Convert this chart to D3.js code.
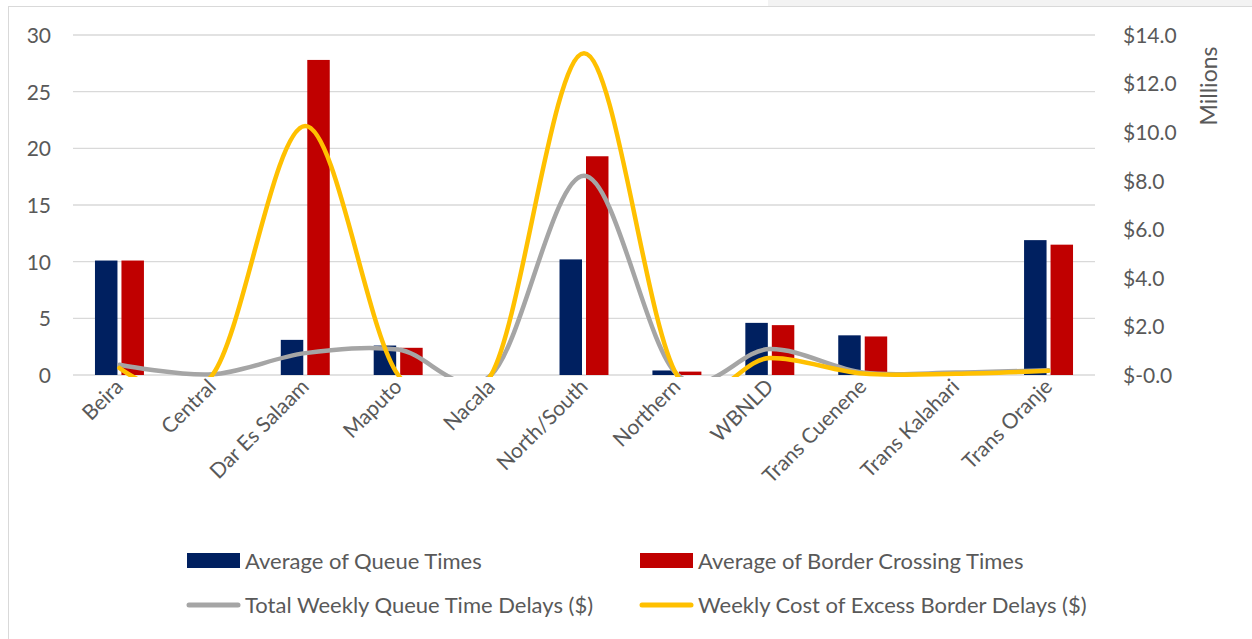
<!DOCTYPE html>
<html>
<head>
<meta charset="utf-8">
<script src="https://cdn.jsdelivr.net/npm/d3@7/dist/d3.min.js"></script>
<style>
  html, body { margin: 0; padding: 0; background: #ffffff; }
  svg { display: block; }
  text { font-family: Lato, "Open Sans", sans-serif; fill: #595959; }
</style>
</head>
<body>
<svg id="chart" width="1252" height="639"></svg>
<script>
// ---- DATA ----
const categories = ["Beira", "Central", "Dar Es Salaam", "Maputo", "Nacala", "North/South",
  "Northern", "WBNLD", "Trans Cuenene", "Trans Kalahari", "Trans Oranje"];
const queueTimes     = [10.1, 0, 3.1, 2.6, 0, 10.2, 0.4, 4.6, 3.5, 0, 11.9];
const crossingTimes  = [10.1, 0, 27.8, 2.4, 0, 19.3, 0.3, 4.4, 3.4, 0, 11.5];
// millions of dollars
const queueDelays    = [0.42, 0.03, 0.9, 1.05, 0, 8.2, 0.03, 1.07, 0.1, 0.1, 0.2];
const borderDelays   = [0.29, 0, 10.25, 0, 0, 13.25, 0, 0.7, 0.06, 0.05, 0.17];
const leftTicks  = [0, 5, 10, 15, 20, 25, 30];
const rightTicks = [0, 2, 4, 6, 8, 10, 12, 14];
const rightTickLabels = ["$-0.0", "$2.0", "$4.0", "$6.0", "$8.0", "$10.0", "$12.0", "$14.0"];
const seriesNames = ["Average of Queue Times", "Average of Border Crossing Times",
  "Total Weekly Queue Time Delays ($)", "Weekly Cost of Excess Border Delays ($)"];

// ---- LAYOUT ----
const colors = { queue: "#002060", cross: "#C00000", qd: "#A5A5A5", bd: "#FFC000" };
const plot = { left: 73, right: 1095, top: 35, bottom: 375 };
const svg = d3.select("#chart");

// frame
svg.append("rect").attr("x", 768).attr("y", 0).attr("width", 484).attr("height", 6).attr("fill", "#f3f3f3");
svg.append("rect").attr("x", 8.5).attr("y", 6.5).attr("width", 1300).attr("height", 700)
  .attr("fill", "#ffffff").attr("stroke", "#d9d9d9").attr("stroke-width", 1);

const x = d3.scaleBand().domain(categories).range([plot.left, plot.right]).padding(0);
const bw = x.bandwidth();
const xs = d3.scaleBand().domain(["q", "c"]).range([bw * 0.2365, bw * 0.7635]).paddingInner(0.151);
const yL = d3.scaleLinear().domain([0, 30]).range([plot.bottom, plot.top]);
const yR = d3.scaleLinear().domain([0, 14]).range([plot.bottom, plot.top]);

// gridlines
svg.append("g").selectAll("line").data(leftTicks).join("line")
  .attr("x1", plot.left).attr("x2", plot.right)
  .attr("y1", d => yL(d)).attr("y2", d => yL(d))
  .attr("stroke", "#d9d9d9").attr("stroke-width", 1.3);

// left axis labels
const leftAxis = d3.axisLeft(yL).tickValues(leftTicks).tickSize(0).tickPadding(0);
const gL = svg.append("g").attr("transform", `translate(51,0)`).call(leftAxis);
gL.select(".domain").remove();
gL.selectAll("text").attr("font-size", 21).attr("dy", "0.35em").style("font-family", "Lato, sans-serif").attr("fill", "#595959");

// right axis labels
const rightAxis = d3.axisRight(yR).tickValues(rightTicks).tickSize(0).tickPadding(0)
  .tickFormat((d, i) => rightTickLabels[i]);
const gR = svg.append("g").attr("transform", `translate(1123,0)`).call(rightAxis);
gR.select(".domain").remove();
gR.selectAll("text").attr("font-size", 21).attr("dy", "0.35em").style("font-family", "Lato, sans-serif").attr("fill", "#595959");

svg.append("text").attr("transform", "translate(1209,86) rotate(-90)")
  .attr("dy", "0.35em")
  .attr("text-anchor", "middle").attr("font-size", 23).text("Millions");

// bars
const barData = categories.map((c, i) => ({ c, q: queueTimes[i], x: crossingTimes[i] }));
const groups = svg.append("g").selectAll("g").data(barData).join("g")
  .attr("transform", d => `translate(${x(d.c)},0)`);
groups.append("rect").attr("x", xs("q")).attr("width", xs.bandwidth())
  .attr("y", d => yL(d.q)).attr("height", d => yL(0) - yL(d.q)).attr("fill", colors.queue);
groups.append("rect").attr("x", xs("c")).attr("width", xs.bandwidth())
  .attr("y", d => yL(d.x)).attr("height", d => yL(0) - yL(d.x)).attr("fill", colors.cross);

// lines
svg.append("clipPath").attr("id", "clip").append("rect")
  .attr("x", plot.left - 10).attr("y", 0).attr("width", plot.right - plot.left + 20).attr("height", plot.bottom + 2);
const line = d3.line()
  .x((d, i) => x(categories[i]) + bw / 2)
  .y(d => yR(d))
  .curve(d3.curveCardinal.tension(0));
const lg = svg.append("g").attr("clip-path", "url(#clip)");
lg.append("path").datum(queueDelays).attr("d", line).attr("fill", "none")
  .attr("stroke", colors.qd).attr("stroke-width", 4.5).attr("stroke-linecap", "round");
lg.append("path").datum(borderDelays).attr("d", line).attr("fill", "none")
  .attr("stroke", colors.bd).attr("stroke-width", 4.5).attr("stroke-linecap", "round");

// category labels
svg.append("g").selectAll("text").data(categories).join("text")
  .attr("transform", d => `translate(${x(d) + bw / 2 + 5},388) rotate(-45)`)
  .attr("text-anchor", "end").attr("font-size", 21).text(d => d);

// legend
const leg = svg.append("g");
const legItems = [
  { name: seriesNames[0], type: "rect", color: colors.queue, x: 187, y: 561 },
  { name: seriesNames[1], type: "rect", color: colors.cross, x: 640, y: 561 },
  { name: seriesNames[2], type: "line", color: colors.qd, x: 187, y: 605 },
  { name: seriesNames[3], type: "line", color: colors.bd, x: 640, y: 605 }
];
legItems.forEach(it => {
  if (it.type === "rect") {
    leg.append("rect").attr("x", it.x).attr("y", it.y - 8).attr("width", 53).attr("height", 15).attr("fill", it.color);
  } else {
    leg.append("line").attr("x1", it.x + 2).attr("x2", it.x + 51).attr("y1", it.y).attr("y2", it.y)
      .attr("stroke", it.color).attr("stroke-width", 5).attr("stroke-linecap", "round");
  }
  leg.append("text").attr("x", it.x + 58).attr("y", it.y).attr("dy", "0.35em")
    .attr("font-size", 22).text(it.name);
});
</script>
</body>
</html>
